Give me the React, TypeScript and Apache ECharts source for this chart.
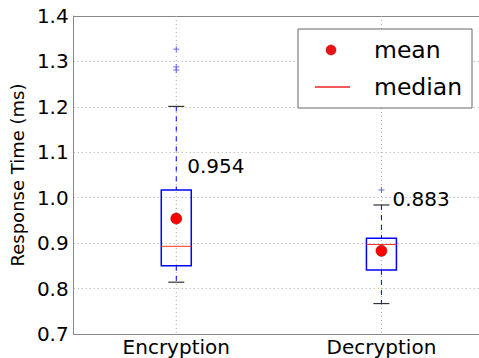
import React, { useEffect, useRef } from "react";
import * as echarts from "echarts";

const categories = ["Encryption", "Decryption"];
const q1 = [0.85, 0.841];
const median = [0.893, 0.897];
const q3 = [1.017, 0.911];
const whiskerLow = [0.814, 0.767];
const whiskerHigh = [1.201, 0.984];
const means = [0.954, 0.883];
const outliers: number[][] = [[1.327, 1.288, 1.281], [1.017]];
const meanLabels = ["0.954", "0.883"];

const FONT = "DejaVu Sans";

export default function App() {
  const ref = useRef<HTMLDivElement>(null);
  useEffect(() => {
    document.body.style.margin = "0";
    const chart = echarts.init(ref.current!, null, { renderer: "svg" });
    const boxData = categories.map((_, i) => [i, whiskerLow[i], q1[i], median[i], q3[i], whiskerHigh[i]]);
    const meanData = categories.map((_, i) => [i, means[i], meanLabels[i]]);
    const outlierData: number[][] = [];
    outliers.forEach((arr, i) => arr.forEach((v) => outlierData.push([i, v])));
    const frameLine = { show: true, lineStyle: { color: "#888", width: 1 } };
    chart.setOption({
      animation: false,
      grid: {
        left: 73,
        top: 16,
        width: 411,
        height: 318,
        show: false,
        containLabel: false,
      },
      legend: { show: false },
      xAxis: [
        {
          type: "category",
          data: categories,
          boundaryGap: true,
          axisLine: frameLine,
          axisTick: { show: false },
          axisLabel: { color: "#000", fontFamily: FONT, fontSize: 20, margin: 3 },
          splitLine: { show: false },
        },
        {
          type: "category",
          data: categories,
          position: "top",
          boundaryGap: true,
          axisLine: frameLine,
          axisTick: { show: false },
          axisLabel: { show: false },
          splitLine: { show: false },
        },
      ],
      yAxis: {
        type: "value",
        min: 0.7,
        max: 1.4,
        interval: 0.1,
        name: "Response Time (ms)",
        nameLocation: "middle",
        nameGap: 40,
        nameTextStyle: { color: "#000", fontFamily: FONT, fontSize: 18 },
        axisLine: frameLine,
        axisTick: { show: false },
        axisLabel: {
          color: "#000",
          fontFamily: FONT,
          fontSize: 20,
          margin: 5,
          formatter: (v: number) => v.toFixed(1),
        },
        splitLine: { show: true, lineStyle: { color: "#aaa", type: [1, 3], width: 1 } },
      },
      series: [
        {
          type: "custom",
          z: 2,
          data: boxData,
          renderItem: (params: any, api: any) => {
            const x = api.value(0);
            const lo = api.coord([x, api.value(1)]);
            const b1 = api.coord([x, api.value(2)]);
            const md = api.coord([x, api.value(3)]);
            const b3 = api.coord([x, api.value(4)]);
            const hi = api.coord([x, api.value(5)]);
            const top = api.coord([x, 1.4]);
            const bottom = api.coord([x, 0.7]);
            const cx = lo[0];
            const hw = 15;
            const cw = 8;
            return {
              type: "group",
              children: [
                { type: "line", shape: { x1: cx, y1: top[1], x2: cx, y2: bottom[1] }, style: { stroke: "#aaa", lineWidth: 1, lineDash: [1, 3] } },
                { type: "line", shape: { x1: cx, y1: hi[1], x2: cx, y2: b3[1] }, style: { stroke: "#0000ff", lineWidth: 1, lineDash: [5, 5] } },
                { type: "line", shape: { x1: cx, y1: b1[1], x2: cx, y2: lo[1] }, style: { stroke: "#0000ff", lineWidth: 1, lineDash: [5, 5] } },
                { type: "line", shape: { x1: cx - cw, y1: hi[1], x2: cx + cw, y2: hi[1] }, style: { stroke: "#333", lineWidth: 1.2 } },
                { type: "line", shape: { x1: cx - cw, y1: lo[1], x2: cx + cw, y2: lo[1] }, style: { stroke: "#333", lineWidth: 1.2 } },
                { type: "rect", shape: { x: cx - hw, y: b3[1], width: 2 * hw, height: b1[1] - b3[1] }, style: { fill: "none", stroke: "#0000ff", lineWidth: 1.5 } },
                { type: "line", shape: { x1: cx - hw, y1: md[1], x2: cx + hw, y2: md[1] }, style: { stroke: "#ff3333", lineWidth: 1 } },
              ],
            };
          },
        },
        {
          type: "custom",
          z: 3,
          data: outlierData,
          renderItem: (params: any, api: any) => {
            const p = api.coord([api.value(0), api.value(1)]);
            const s = 3;
            return {
              type: "group",
              children: [
                { type: "line", shape: { x1: p[0] - s, y1: p[1], x2: p[0] + s, y2: p[1] }, style: { stroke: "#6666ff", lineWidth: 1 } },
                { type: "line", shape: { x1: p[0], y1: p[1] - s, x2: p[0], y2: p[1] + s }, style: { stroke: "#6666ff", lineWidth: 1 } },
              ],
            };
          },
        },
        {
          type: "custom",
          z: 4,
          data: meanData,
          renderItem: (params: any, api: any) => {
            const p = api.coord([api.value(0), api.value(1)]);
            return { type: "circle", shape: { cx: p[0], cy: p[1], r: 5.5 }, style: { fill: "#ff0000", stroke: "#880000", lineWidth: 0.5 } };
          },
        },
        {
          type: "custom",
          z: 5,
          data: meanData,
          renderItem: (params: any, api: any) => {
            const i = params.dataIndex;
            const x = api.value(0);
            const anchor = api.coord([x, means[i] + 0.115]);
            return {
              type: "text",
              x: anchor[0] + 11,
              y: anchor[1],
              style: {
                text: meanLabels[i],
                fill: "#000",
                font: `20px "${FONT}"`,
                textAlign: "left",
                textVerticalAlign: "middle",
              },
            };
          },
        },
      ],
      graphic: [
        {
          type: "rect",
          shape: { x: 298, y: 29, width: 174, height: 79 },
          style: { fill: "#fff", stroke: "#666", lineWidth: 1 },
          z: 100,
        },
        {
          type: "circle",
          shape: { cx: 331, cy: 50, r: 5 },
          style: { fill: "#ee1111", stroke: "#880000", lineWidth: 0.5 },
          z: 101,
        },
        {
          type: "line",
          shape: { x1: 315, y1: 87, x2: 350, y2: 87 },
          style: { stroke: "#ee2222", lineWidth: 1.5 },
          z: 101,
        },
        {
          type: "text",
          x: 374,
          y: 50,
          style: { text: "mean", fill: "#000", font: `23.5px "${FONT}"`, textVerticalAlign: "middle" },
          z: 101,
        },
        {
          type: "text",
          x: 374,
          y: 87,
          style: { text: "median", fill: "#000", font: `23.5px "${FONT}"`, textVerticalAlign: "middle" },
          z: 101,
        },
      ],
    });
    return () => chart.dispose();
  }, []);
  return (
    <div style={{ width: 479, height: 358, overflow: "hidden" }}>
      <div ref={ref} style={{ width: 500, height: 358 }} />
    </div>
  );
}
